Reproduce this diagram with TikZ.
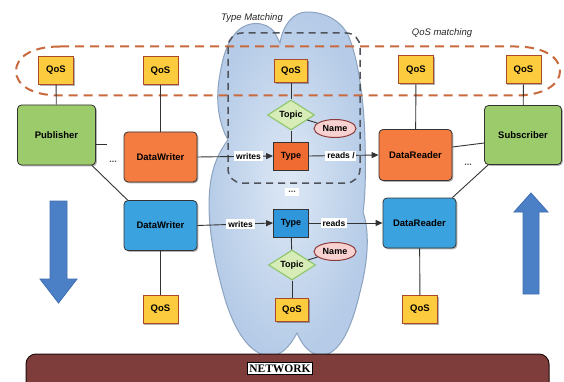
\documentclass[tikz,border=0pt]{standalone}
\usepackage{fontspec}
\setmainfont{Liberation Sans}
\newfontfamily\netfont{Liberation Serif}
\usetikzlibrary{shapes.geometric,arrows.meta,shadows}

\definecolor{qosfill}{HTML}{FDCB3E}
\definecolor{qosline}{HTML}{A9482A}
\definecolor{ddsorange}{HTML}{F47C40}
\definecolor{typeorange}{HTML}{F06B32}
\definecolor{ddsgreen}{HTML}{9CCB6C}
\definecolor{ddsblue}{HTML}{3BA2E0}
\definecolor{typeblue}{HTML}{2F96DB}
\definecolor{topicfill}{HTML}{D7ECB6}
\definecolor{topicline}{HTML}{8DC66B}
\definecolor{namefill}{HTML}{F8D2D0}
\definecolor{nameline}{HTML}{8C3B3B}
\definecolor{cloudin}{HTML}{DDE8F5}
\definecolor{cloudout}{HTML}{B5CBE7}
\definecolor{cloudline}{HTML}{8CA3C0}
\definecolor{matchline}{HTML}{C96A3E}
\definecolor{typematch}{HTML}{4F545C}
\definecolor{bigarrow}{HTML}{4C80C6}
\definecolor{bigarrowline}{HTML}{3E6DB0}
\definecolor{netfill}{HTML}{7E3C3B}

\tikzset{
  softshadow/.style={drop shadow={shadow xshift=1.3pt, shadow yshift=-1.3pt, opacity=0.3, fill=black}},
  entitybox/.style={draw=black!80, line width=0.8pt, rounded corners=4pt, softshadow,
    font=\bfseries\fontsize{9.5}{10}\selectfont},
  endpoint/.style={entitybox, minimum width=73pt, minimum height=50pt},
  party/.style={entitybox, fill=ddsgreen, minimum width=78pt, minimum height=60pt},
  qosbox/.style={draw=qosline, line width=1pt, fill=qosfill, softshadow,
    minimum width=35pt, minimum height=28pt, inner sep=0pt,
    font=\bfseries\fontsize{9.5}{10}\selectfont},
  qossmall/.style={qosbox, minimum width=33pt, minimum height=23pt},
  typebox/.style={draw=black!80, line width=0.8pt, minimum width=35pt, minimum height=28pt,
    inner sep=0pt, font=\bfseries\fontsize{9}{10}\selectfont},
  topicbox/.style={diamond, aspect=1.6, draw=topicline, fill=topicfill, line width=1.1pt,
    minimum width=47pt, minimum height=30pt, inner sep=0pt,
    font=\bfseries\fontsize{9}{10}\selectfont},
  namebox/.style={ellipse, draw=nameline, fill=namefill, line width=1pt,
    minimum width=42pt, minimum height=18pt, inner sep=0pt,
    font=\bfseries\fontsize{9}{10}\selectfont},
  flowlabel/.style={fill=white, inner sep=1.8pt, font=\bfseries\fontsize{8.5}{10}\selectfont},
  dotsnode/.style={inner sep=1pt, font=\bfseries\fontsize{9}{10}\selectfont, text=black!70},
  conn/.style={draw=black!80, line width=0.9pt},
  flow/.style={conn, -{Triangle[length=7pt,width=6pt]}},
  captiontext/.style={font=\itshape\fontsize{9.5}{11}\selectfont, text=black!85},
  bigarrowstyle/.style={fill=bigarrow, draw=bigarrowline, line width=0.8pt},
}

\begin{document}
\begin{tikzpicture}[x=1pt,y=-1pt]
\useasboundingbox (0,0) rectangle (564,382);
\clip (0,0) rectangle (564,382);

% type-matching cloud
\path[draw=cloudline, line width=1pt, inner color=cloudin, outer color=cloudout]
  (297,333) .. controls (290,346) and (281,357) .. (268,356)
  .. controls (246,353) and (231,322) .. (223,292)
  .. controls (215,263) and (206,222) .. (210,187)
  .. controls (212,166) and (220,150) .. (228,140)
  .. controls (218,122) and (216,100) .. (219,80)
  .. controls (222,60) and (226,45) .. (234,35)
  .. controls (245,20) and (266,20) .. (275,33)
  .. controls (277,37) and (279,41) .. (280,43)
  .. controls (283,25) and (293,12) .. (307,12)
  .. controls (330,12) and (345,25) .. (350,40)
  .. controls (358,60) and (364,100) .. (365,140)
  .. controls (366,175) and (365,200) .. (363,212)
  .. controls (370,232) and (368,262) .. (360,292)
  .. controls (354,318) and (343,352) .. (324,355)
  .. controls (311,357) and (302,345) .. (297,333) -- cycle;

% QoS matching band
\draw[matchline, line width=2pt, dash pattern=on 9pt off 6pt]
  (60,46.5) -- (515,46.5) .. controls (545,46.5) and (560,58) .. (560,71)
  .. controls (560,84) and (545,95.5) .. (515,95.5) -- (60,95.5)
  .. controls (30,95.5) and (16,84) .. (16,71)
  .. controls (16,58) and (30,46.5) .. (60,46.5) -- cycle;

% type matching region
\draw[typematch, line width=1.5pt, dash pattern=on 7pt off 5pt, rounded corners=14pt]
  (228,33) rectangle (360,183);

\node[captiontext] (tmcap) at (252,18) {Type Matching};
\node[captiontext] (qmcap) at (442,33) {QoS matching};

% network bar
\path[draw=black!75!netfill, line width=1pt, fill=netfill, rounded corners=10pt]
  (26,354) rectangle (549,400);
\node[draw=black, line width=0.5pt, fill=white, inner sep=2pt,
  font=\netfont\bfseries\fontsize{11.5}{13}\selectfont] (net) at (280,368.5) {NETWORK};

% direction arrows
\path[bigarrowstyle] (50,201) -- (67,201) -- (67,279) -- (77,279) -- (58.5,303)
  -- (40,279) -- (50,279) -- cycle;
\path[bigarrowstyle] (523,294) -- (539,294) -- (539,212) -- (548,212) -- (531,193)
  -- (514,212) -- (523,212) -- cycle;

% publisher side
\node[party] (pub) at (56.5,135) {Publisher};
\node[endpoint, fill=ddsorange] (dwo) at (160.5,157) {DataWriter};
\node[endpoint, fill=ddsblue] (dwb) at (160.5,225.5) {DataWriter};

% subscriber side
\node[party, minimum width=77pt, minimum height=59pt] (sub) at (523,135) {Subscriber};
\node[endpoint, fill=ddsorange, minimum height=51pt] (dro) at (415.5,155) {DataReader};
\node[endpoint, fill=ddsblue] (drb) at (419.5,223) {DataReader};

% QoS policies
\node[qosbox] (qpub) at (56,70.5) {QoS};
\node[qosbox] (qdwo) at (160.5,71) {QoS};
\node[qossmall] (qtop) at (291,71) {QoS};
\node[qosbox] (qdro) at (416,70) {QoS};
\node[qosbox] (qsub) at (523.5,70) {QoS};
\node[qosbox] (qdwb) at (160.5,309.5) {QoS};
\node[qossmall] (qtopb) at (292,310) {QoS};
\node[qosbox] (qdrb) at (420,309.5) {QoS};

% topics and types
\node[typebox, fill=typeorange] (typeo) at (291,156) {Type};
\node[typebox, fill=typeblue] (typeb) at (291,223) {Type};
\node[topicbox] (topica) at (291,115) {Topic};
\node[topicbox] (topicb) at (292,265) {Topic};
\node[namebox] (namea) at (335,128.5) {Name};
\node[namebox] (nameb) at (335,251.5) {Name};

% ellipses
\coordinate (pubstub) at (107,144);
\node[dotsnode] (pubdots) at (113,162) {...};
\node[dotsnode] (subdots) at (468,165) {...};
\node[dotsnode, fill=white, inner sep=3pt] (middots) at (292,192) {...};

% connectors
\draw[conn] (qpub) -- (pub);
\draw[conn] (qdwo) -- (dwo);
\draw[conn] (qdro) -- (dro);
\draw[conn] (qsub) -- (sub);
\draw[conn] (qdwb) -- (dwb);
\draw[conn] (qdrb) -- (drb);
\draw[conn] (qtop) -- (topica);
\draw[conn] (topica) -- (typeo);
\draw[conn] (topica) -- (namea);
\draw[conn] (typeb) -- (topicb);
\draw[conn] (topicb) -- (qtopb);
\draw[conn] (topicb) -- (nameb);

\draw[conn] ([yshift=-9pt]pub.east) -- (pubstub);
\draw[conn] ([xshift=-4pt]pub.south east) -- ([xshift=4pt]dwb.north west);
\draw[conn] ([yshift=8pt]dro.east) -- ([yshift=-8pt]sub.west);
\draw[conn] ([xshift=4pt]sub.south west) -- ([xshift=-4pt]drb.north east);

\draw[flow] (dwo.east) -- node[flowlabel, pos=0.675] {writes} (typeo.west);
\draw[flow] (typeo.east) -- node[flowlabel, pos=0.46] {reads /} (dro.west);
\draw[flow] (dwb.east) -- node[flowlabel, pos=0.57] {writes} (typeb.west);
\draw[flow] (typeb.east) -- node[flowlabel, pos=0.34] {reads} (drb.west);
\end{tikzpicture}
\end{document}
